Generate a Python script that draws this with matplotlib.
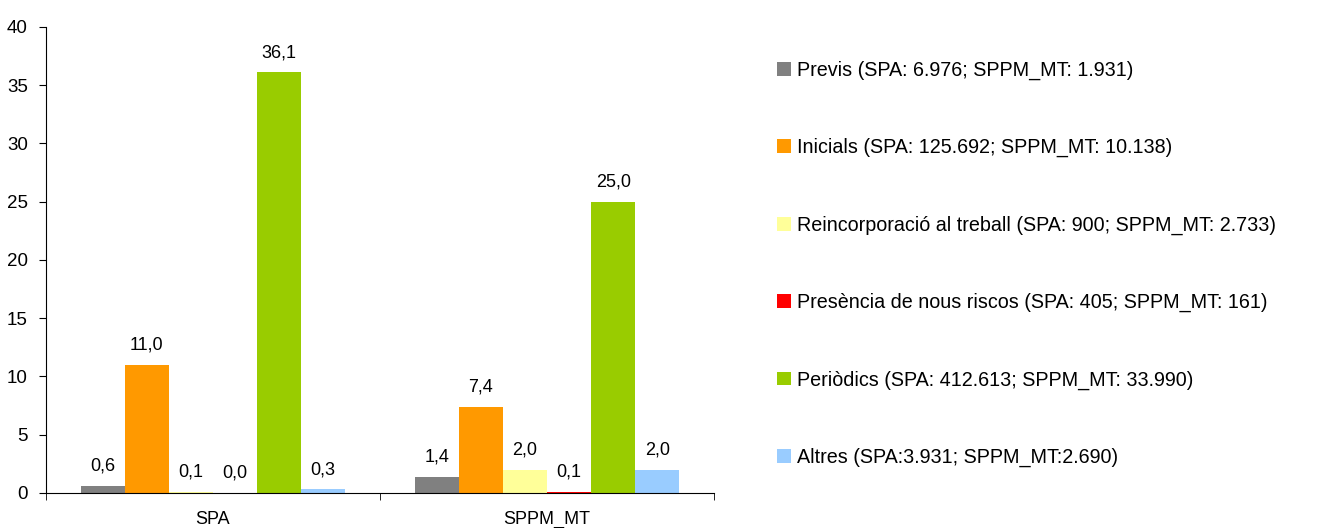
import matplotlib.pyplot as plt
import numpy as np

groups = ["SPA", "SPPM_MT"]
series = [
    "Previs (SPA: 6.976; SPPM_MT: 1.931)",
    "Inicials (SPA: 125.692; SPPM_MT: 10.138)",
    "Reincorporació al treball (SPA: 900; SPPM_MT: 2.733)",
    "Presència de nous riscos (SPA: 405; SPPM_MT: 161)",
    "Periòdics (SPA: 412.613; SPPM_MT: 33.990)",
    "Altres (SPA:3.931; SPPM_MT:2.690)",
]
values = [
    [0.6, 1.4],
    [11.0, 7.4],
    [0.1, 2.0],
    [0.0, 0.1],
    [36.1, 25.0],
    [0.3, 2.0],
]
colors = ["#808080", "#FF9900", "#FFFF99", "#FF0000", "#99CC00", "#99CCFF"]

plt.rcParams["font.family"] = ["Liberation Sans", "DejaVu Sans"]

fig = plt.figure(figsize=(13.22, 5.28), dpi=100)
ax = fig.add_axes([0.0348, 0.0663, 0.5053, 0.8826])

x = np.arange(len(groups))
w = 0.132
n = len(series)
handles = []
for i in range(n):
    pos = x + (i - (n - 1) / 2) * w
    bars = ax.bar(pos, values[i], width=w, color=colors[i], label=series[i])
    handles.append(bars)
    ax.bar_label(bars, labels=[f"{v:.1f}".replace(".", ",") for v in values[i]],
                 padding=8, fontsize=13)

ax.set_xlim(-0.5, len(groups) - 0.5)
ax.set_ylim(0, 40)
ax.set_yticks(range(0, 41, 5))
ax.set_xticks(x)
ax.set_xticklabels(groups)
ax.set_xticks(np.arange(-0.5, len(groups), 1), minor=True)
ax.tick_params(axis="x", which="major", length=0, pad=13, labelsize=13)
ax.tick_params(axis="x", which="minor", length=5, direction="out")
ax.tick_params(axis="y", length=5, direction="out", labelsize=13.5, pad=8)
for s in ["top", "right"]:
    ax.spines[s].set_visible(False)

fig.legend(handles=handles, loc="upper left", bbox_to_anchor=(0.5817, 0.9),
           frameon=False, fontsize=14.2, labelspacing=2.95, handlelength=0.71,
           handleheight=0.71, handletextpad=0.3, borderaxespad=0)

fig.savefig("out.png", dpi=100)
